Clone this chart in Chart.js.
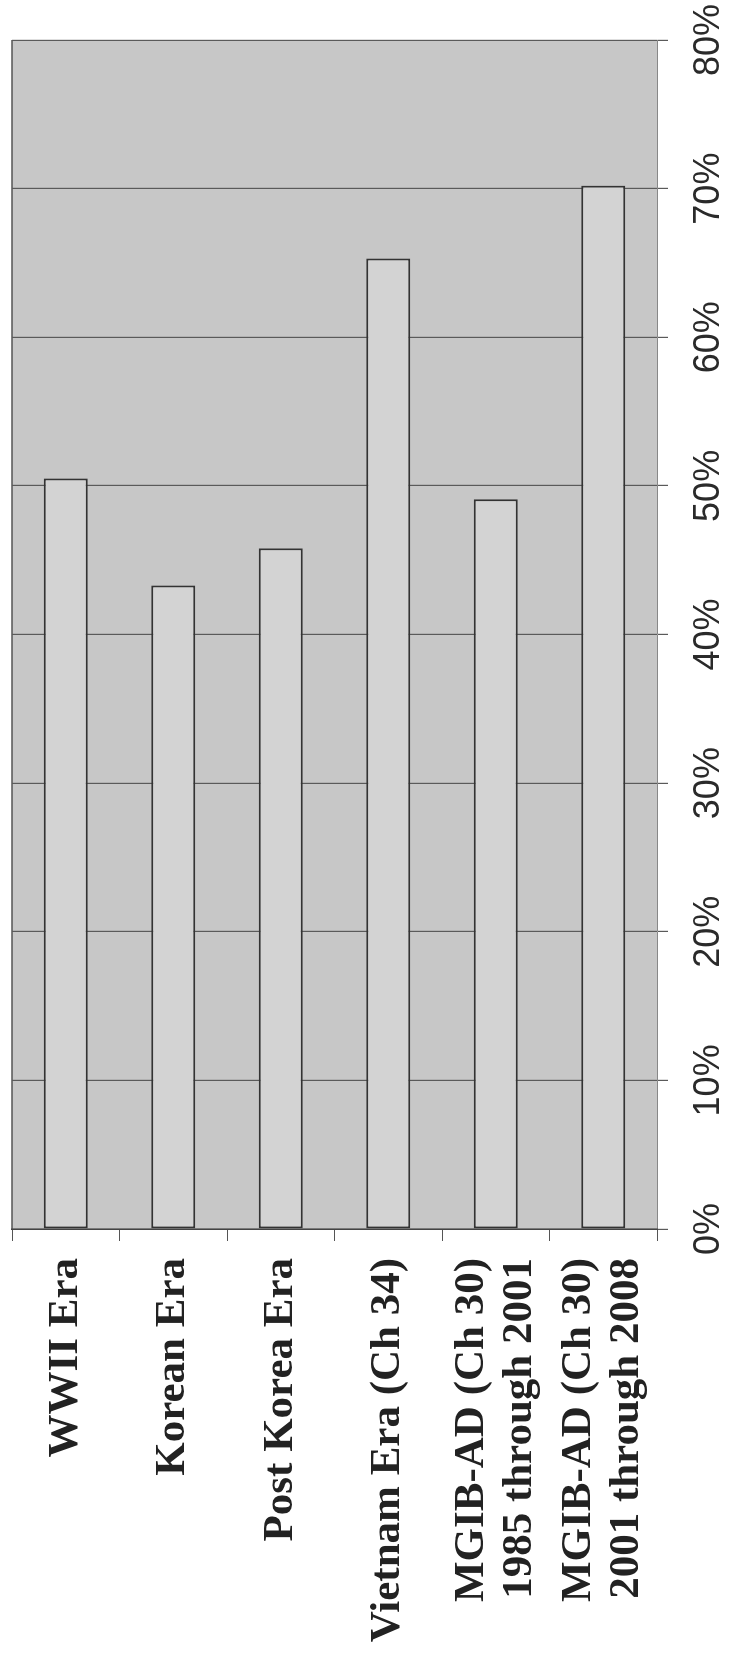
<!DOCTYPE html>
<html>
<head>
<meta charset="utf-8">
<script src="https://cdn.jsdelivr.net/npm/chart.js@4.4.1/dist/chart.umd.min.js"></script>
<style>
  html, body { margin: 0; padding: 0; background: #fff; }
  body { width: 729px; height: 1656px; overflow: hidden; position: relative; }
  /* the scan is a horizontal bar chart turned on its side */
  #wrap {
    position: absolute; left: 0; top: 0;
    width: 1656px; height: 729px;
    transform-origin: 0 0;
    transform: translate(0, 1656px) rotate(-90deg);
  }
</style>
</head>
<body>
<div id="wrap"><canvas id="chart" width="1656" height="729"></canvas></div>
<script>
// categories (multi-line ones as arrays)
const categorias = [
  'WWII Era',
  'Korean Era',
  'Post Korea Era',
  'Vietnam Era (Ch 34)',
  ['MGIB-AD (Ch 30)', '1985 through 2001'],
  ['MGIB-AD (Ch 30)', '2001 through 2008']
];
// percent
const valores = [50.5, 43.3, 45.8, 65.3, 49.1, 70.2];
const escalaMax = 80;
const escalaPaso = 10;

// fondo gris del area del grafico + borde superior
const fondoPlugin = {
  id: 'fondo',
  beforeDraw: (chart) => {
    const { ctx, chartArea: a } = chart;
    ctx.save();
    ctx.fillStyle = '#c7c7c7';
    ctx.fillRect(a.left, a.top, a.right - a.left, a.bottom - a.top);
    ctx.strokeStyle = '#555';
    ctx.lineWidth = 1.5;
    ctx.beginPath();
    ctx.moveTo(a.left, a.top);
    ctx.lineTo(a.right, a.top);
    ctx.stroke();
    ctx.restore();
  }
};

new Chart(document.getElementById('chart'), {
  type: 'bar',
  data: {
    labels: categorias,
    datasets: [{
      data: valores,
      backgroundColor: '#d3d3d3',
      borderColor: '#333',
      borderWidth: 2,
      borderSkipped: false,
      barPercentage: 0.82,
      categoryPercentage: 0.5
    }]
  },
  options: {
    indexAxis: 'y',
    responsive: false,
    animation: false,
    devicePixelRatio: 1,
    layout: { padding: { top: 12, right: 40, left: 0, bottom: 0 } },
    plugins: {
      legend: { display: false },
      tooltip: { enabled: false }
    },
    scales: {
      x: {
        min: 0,
        max: escalaMax,
        afterFit: (s) => {
          s.height = 72;
          s.paddingLeft = 0;
          s.paddingRight = 0;
        },
        grid: { color: '#5a5a5a', lineWidth: 1.2, tickLength: 11 },
        border: { color: '#888', width: 1 },
        ticks: {
          stepSize: escalaPaso,
          padding: 19,
          color: '#2a2a2a',
          font: { family: 'Liberation Sans', size: 36 },
          callback: (v) => v + '%'
        }
      },
      y: {
        afterFit: (s) => {
          s.width = 427;
          s.paddingTop = 0;
          s.paddingBottom = 0;
        },
        grid: { drawOnChartArea: false, color: '#555', tickLength: 12 },
        border: { color: '#444', width: 1.5 },
        ticks: {
          autoSkip: false,
          padding: 17,
          color: '#222',
          font: { family: 'Liberation Serif', size: 43, weight: 'bold', lineHeight: 1.12 }
        }
      }
    }
  },
  plugins: [fondoPlugin]
});
</script>
</body>
</html>
